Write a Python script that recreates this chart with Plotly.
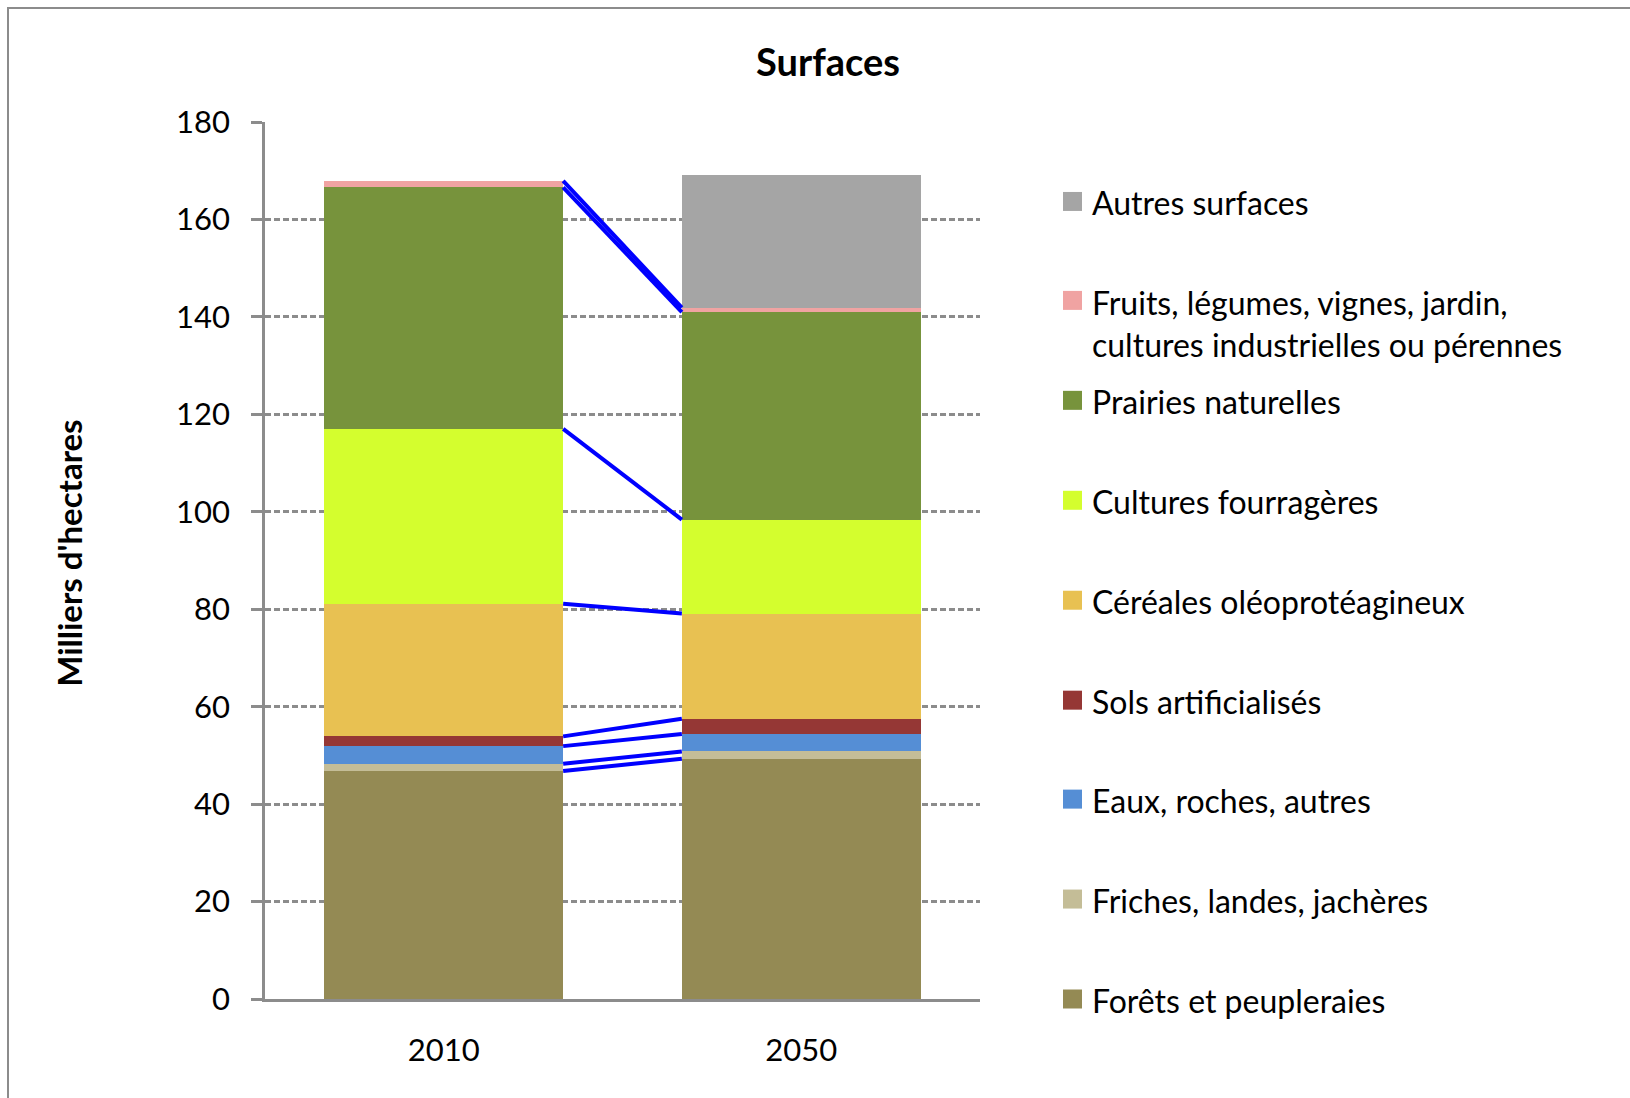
import plotly.graph_objects as go

# ---------------- data ----------------
categories = ["2010", "2050"]
series_names = [
    "Forêts et peupleraies",
    "Friches, landes, jachères",
    "Eaux, roches, autres",
    "Sols artificialisés",
    "Céréales oléoprotéagineux",
    "Cultures fourragères",
    "Prairies naturelles",
    "Fruits, légumes, vignes, jardin,<br>cultures industrielles ou pérennes",
    "Autres surfaces",
]
forets = [46.8, 49.3]
friches = [1.5, 1.5]
eaux = [3.6, 3.6]
sols = [2.0, 3.1]
cereales = [27.2, 21.6]
fourrageres = [35.9, 19.3]
prairies = [49.6, 42.6]
fruits = [1.3, 0.9]
autres = [0.0, 27.3]
series_values = [forets, friches, eaux, sols, cereales, fourrageres, prairies, fruits, autres]
series_colors = ["#948a54", "#c4bd97", "#558ed5", "#953735", "#e8c152",
                 "#d4fe2e", "#77933c", "#f0a3a2", "#a5a5a5"]
y_ticks = [0, 20, 40, 60, 80, 100, 120, 140, 160, 180]

# ---------------- layout geometry (pixels) ----------------
W, H = 1630, 1098
L, R, T, B = 265, 980, 122, 999.5
PW, PH = R - L, B - T
FONT = "Lato"
BAR_W = 0.668

def px_x(p):
    return (p - L) / PW

def px_y(p):
    return (B - p) / PH

fig = go.Figure()
xs = list(range(len(categories)))
for name, vals, col in zip(series_names, series_values, series_colors):
    fig.add_trace(go.Bar(x=xs, y=vals, name=name, marker=dict(color=col, line=dict(width=0)),
                         width=BAR_W, showlegend=False, hoverinfo="y"))

# series lines (Excel style) between stacked tops, except the zero series
cum = [0.0] * len(categories)
for name, vals in zip(series_names, series_values):
    cum = [c + v for c, v in zip(cum, vals)]
    if name == "Autres surfaces":
        continue
    fig.add_trace(go.Scatter(x=[xs[0] + BAR_W / 2, xs[1] - BAR_W / 2], y=[cum[0], cum[1]],
                             mode="lines", line=dict(color="#0000ff", width=4),
                             showlegend=False, hoverinfo="skip"))

shapes = []
annotations = []
# outer border
shapes.append(dict(type="rect", xref="paper", yref="paper",
                   x0=px_x(8), x1=px_x(1700), y0=px_y(1200), y1=px_y(8),
                   line=dict(color="#8c8c8c", width=2), fillcolor="rgba(0,0,0,0)", layer="below"))

# manual legend (top to bottom)
legend_y = [203, 302, 402, 502, 602, 702, 801, 901, 1001]
order = list(range(len(series_names)))[::-1]
for yy, idx in zip(legend_y, order):
    shapes.append(dict(type="rect", xref="paper", yref="paper",
                       x0=px_x(1063), x1=px_x(1082), y0=px_y(yy + 8), y1=px_y(yy - 11),
                       fillcolor=series_colors[idx], line=dict(width=0)))
    name = series_names[idx]
    if "<br>" in name:
        annotations.append(dict(text=name, xref="paper", yref="paper", x=px_x(1090),
                                y=px_y(yy - 21), xanchor="left", yanchor="top", align="left",
                                showarrow=False, font=dict(family=FONT, size=32, color="#000")))
    else:
        annotations.append(dict(text=name, xref="paper", yref="paper", x=px_x(1090),
                                y=px_y(yy), xanchor="left", yanchor="middle", align="left",
                                showarrow=False, font=dict(family=FONT, size=32, color="#000")))

# y-axis title
annotations.append(dict(text="<b>Milliers d'hectares</b>", xref="paper", yref="paper",
                        x=px_x(69), y=px_y(554), textangle=-90, showarrow=False,
                        xanchor="center", yanchor="middle",
                        font=dict(family=FONT, size=33, color="#000")))

fig.update_layout(
    width=W, height=H,
    margin=dict(l=L, r=W - R, t=T, b=H - B, pad=0),
    paper_bgcolor="white", plot_bgcolor="white",
    barmode="stack",
    title=dict(text="<b>Surfaces</b>", x=px_x(828), xref="paper", xanchor="center",
               y=1 - 63 / H, yref="container", yanchor="middle",
               font=dict(family=FONT, size=38, color="#000")),
    font=dict(family=FONT, color="#000"),
    shapes=shapes, annotations=annotations,
    showlegend=False,
)
fig.update_yaxes(range=[0, 180], tickvals=y_ticks, ticks="outside", ticklen=11,
                 tickcolor="#8c8c8c", tickwidth=2.5, showline=True, linecolor="#8c8c8c",
                 linewidth=2.5, showgrid=True, gridcolor="#8c8c8c", griddash="6px,3px",
                 gridwidth=2.5, zeroline=False, tickfont=dict(family=FONT, size=31, color="#000"),
                 ticklabelstandoff=15)
fig.update_xaxes(range=[-0.5, 1.5], tickvals=xs, ticktext=categories, ticks="",
                 showline=True, linecolor="#8c8c8c", linewidth=2.5, showgrid=False,
                 zeroline=False, tickfont=dict(family=FONT, size=31, color="#000"),
                 ticklabelstandoff=22)

fig.write_html("out.html", config={"displayModeBar": False},
               post_script="document.body.style.margin='0';document.body.style.overflow='hidden';")
